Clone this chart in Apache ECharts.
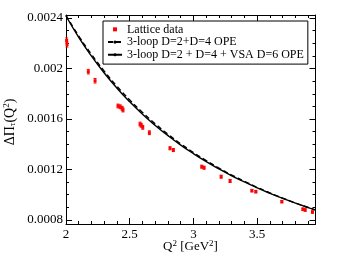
<!DOCTYPE html>
<html><head><meta charset="utf-8">
<script src="https://cdn.jsdelivr.net/npm/echarts@6/dist/echarts.min.js"></script>
<style>html,body{margin:0;padding:0;background:#fff}#c{width:355px;height:274px}</style>
</head><body><div id="c"></div>
<script>
// ---- data ----
const latticeX = [2.005, 2.008, 2.175, 2.228, 2.408, 2.425, 2.440, 2.447, 2.581, 2.590, 2.602, 2.654, 2.816, 2.842, 3.065, 3.083, 3.217, 3.287, 3.458, 3.489, 3.693, 3.858, 3.876, 3.933];
const latticeY = [0.002222, 0.002190, 0.001975, 0.001903, 0.001703, 0.001697, 0.001685, 0.001671, 0.001560, 0.001550, 0.001534, 0.001491, 0.001368, 0.001354, 0.001222, 0.001214, 0.001143, 0.001109, 0.001032, 0.001024, 0.000945, 0.000885, 0.000879, 0.000863];
const latticeErr = [0.00002, 0.00002, 0.000018, 0.000018, 0.000015, 0.000015, 0.000015, 0.000015, 0.000015, 0.000015, 0.000015, 0.000015, 0.000012, 0.000012, 0.000012, 0.000012, 0.000012, 0.000012, 0.00001, 0.00001, 0.00001, 0.00001, 0.00001, 0.00001];
const curveX = [2.0, 2.1, 2.2, 2.3, 2.4, 2.5, 2.6, 2.7, 2.8, 2.9, 3.0, 3.1, 3.2, 3.3, 3.4, 3.5, 3.6, 3.7, 3.8, 3.9, 3.96];
const opeD4 = [0.002421, 0.002257, 0.002112, 0.001979, 0.001859, 0.001751, 0.001652, 0.001562, 0.001479, 0.001403, 0.001334, 0.001270, 0.001211, 0.001156, 0.001106, 0.001058, 0.001014, 0.000973, 0.000934, 0.000899, 0.000878];
const opeD6 = [0.002416, 0.002247, 0.002098, 0.001964, 0.001844, 0.001736, 0.001638, 0.001549, 0.001468, 0.001393, 0.001325, 0.001262, 0.001204, 0.001150, 0.001101, 0.001054, 0.001011, 0.000971, 0.000933, 0.000898, 0.000878];
const xTickValues = [2, 2.5, 3, 3.5];
const xTickLabels = ['2', '2.5', '3', '3.5'];
const xMinorValues = [2.1, 2.2, 2.3, 2.4, 2.6, 2.7, 2.8, 2.9, 3.1, 3.2, 3.3, 3.4, 3.6, 3.7, 3.8, 3.9];
const yTickValues = [0.0008, 0.0012, 0.0016, 0.002, 0.0024];
const yTickLabels = ['0.0008', '0.0012', '0.0016', '0.002', '0.0024'];
const yMinorValues = [0.0009, 0.001, 0.0011, 0.0013, 0.0014, 0.0015, 0.0017, 0.0018, 0.0019, 0.0021, 0.0022, 0.0023];
const seriesNames = ['Lattice data', '3-loop D=2+D=4 OPE', '3-loop D=2 + D=4 + VSA D=6 OPE'];

// ---- chart ----
const FONT = 'Liberation Serif';
const XMIN = 2, XMAX = 3.957, YMIN = 0.000768, YMAX = 0.002424;
const chart = echarts.init(document.getElementById('c'), null, {renderer: 'canvas'});
const gridPos = {left: 66, right: 39.5, top: 15, bottom: 50};
function fmt(vals, labels) { return v => { for (let i = 0; i < vals.length; i++) if (Math.abs(v - vals[i]) < 1e-9) return labels[i]; return ''; }; }
function xAx(grid, pos, ticks, len, withLabel, withLine) {
  return {type: 'value', gridIndex: grid, position: pos, min: XMIN, max: XMAX,
    axisLine: {show: withLine, onZero: false, lineStyle: {color: '#000', width: 1}},
    axisTick: {show: true, inside: true, length: len, customValues: ticks, lineStyle: {color: '#000', width: 1}},
    axisLabel: {show: withLabel, customValues: xTickValues, formatter: fmt(xTickValues, xTickLabels), fontFamily: FONT, fontSize: 13, color: '#000', margin: 4},
    splitLine: {show: false}};
}
function yAx(grid, pos, ticks, len, withLabel, withLine) {
  return {type: 'value', gridIndex: grid, position: pos, min: YMIN, max: YMAX,
    axisLine: {show: withLine, onZero: false, lineStyle: {color: '#000', width: 1}},
    axisTick: {show: true, inside: true, length: len, customValues: ticks, lineStyle: {color: '#000', width: 1}},
    axisLabel: {show: withLabel, customValues: yTickValues, formatter: fmt(yTickValues, yTickLabels), fontFamily: FONT, fontSize: 13, color: '#000', margin: 3},
    splitLine: {show: false}};
}
const latticeData = latticeX.map((x, i) => [x, latticeY[i], latticeErr[i]]);
const option = {
  animation: false,
  backgroundColor: '#fff',
  grid: [Object.assign({}, gridPos), Object.assign({}, gridPos)],
  xAxis: [xAx(0, 'bottom', xTickValues, 6, true, true), xAx(0, 'top', xTickValues, 6, false, true),
          xAx(1, 'bottom', xMinorValues, 3, false, false), xAx(1, 'top', xMinorValues, 3, false, false)],
  yAxis: [yAx(0, 'left', yTickValues, 6, true, true), yAx(0, 'right', yTickValues, 6, false, true),
          yAx(1, 'left', yMinorValues, 3, false, false), yAx(1, 'right', yMinorValues, 3, false, false)],
  legend: {
    left: 103, top: 21, orient: 'vertical', itemGap: 0, itemWidth: 14, itemHeight: 4, symbolKeepAspect: true,
    padding: [2, 4, 3, 4], borderColor: '#000', borderWidth: 1, backgroundColor: '#fff',
    textStyle: {fontFamily: FONT, fontSize: 12, color: '#000', lineHeight: 12.7},
    data: [{name: seriesNames[0], icon: 'path://M0,0L4,0L4,4L0,4Z', itemStyle: {color: '#ff0000'}}, {name: seriesNames[1]}, {name: seriesNames[2]}]
  },
  series: [
    {name: seriesNames[1], type: 'line', xAxisIndex: 0, yAxisIndex: 0, data: curveX.map((x, i) => [x, opeD4[i]]),
      smooth: true, symbol: 'none', lineStyle: {color: '#000', width: 1.4, type: [5, 3]}, itemStyle: {color: '#000'}, z: 3},
    {name: seriesNames[2], type: 'line', xAxisIndex: 0, yAxisIndex: 0, data: curveX.map((x, i) => [x, opeD6[i]]),
      smooth: true, symbol: 'none', lineStyle: {color: '#000', width: 1.4}, itemStyle: {color: '#000'}, z: 3},
    {name: seriesNames[0], type: 'custom', xAxisIndex: 0, yAxisIndex: 0, data: latticeData, itemStyle: {color: '#ff0000'}, z: 4,
      encode: {x: 0, y: 1},
      renderItem: function (params, api) {
        const x = api.value(0), y = api.value(1), e = api.value(2);
        const p = api.coord([x, y]), hi = api.coord([x, y + e]), lo = api.coord([x, y - e]);
        const st = {stroke: '#ff0000', lineWidth: 1};
        return {type: 'group', children: [
          {type: 'line', shape: {x1: p[0], y1: hi[1], x2: p[0], y2: lo[1]}, style: st},
          {type: 'line', shape: {x1: p[0] - 1.5, y1: hi[1], x2: p[0] + 1.5, y2: hi[1]}, style: st},
          {type: 'line', shape: {x1: p[0] - 1.5, y1: lo[1], x2: p[0] + 1.5, y2: lo[1]}, style: st},
          {type: 'rect', shape: {x: p[0] - 1.5, y: p[1] - 1.5, width: 3, height: 3}, style: {fill: '#ff0000'}}
        ]};
      }}
  ],
  graphic: [
    {type: 'text', style: {text: 'Q{sup|2} [GeV{sup|2}]', x: 190.5, y: 247, align: 'center', verticalAlign: 'middle', fill: '#000', font: '13px "Liberation Serif"',
      rich: {sup: {fontSize: 9, verticalAlign: 'top', padding: [0, 0, 6, 0], fontFamily: FONT}}}},
    {type: 'text', x: 10, y: 122, rotation: Math.PI / 2, style: {text: 'ΔΠ{sub|τ}(Q{sup|2})', x: 0, y: 0, align: 'center', verticalAlign: 'middle', fill: '#000', font: '14px "Liberation Serif"',
      rich: {sup: {fontSize: 9, padding: [0, 0, 7, 0], fontFamily: FONT}, sub: {fontSize: 9, padding: [6, 0, 0, 0], fontFamily: FONT}}}}
  ]
};
chart.setOption(option);
</script></body></html>
